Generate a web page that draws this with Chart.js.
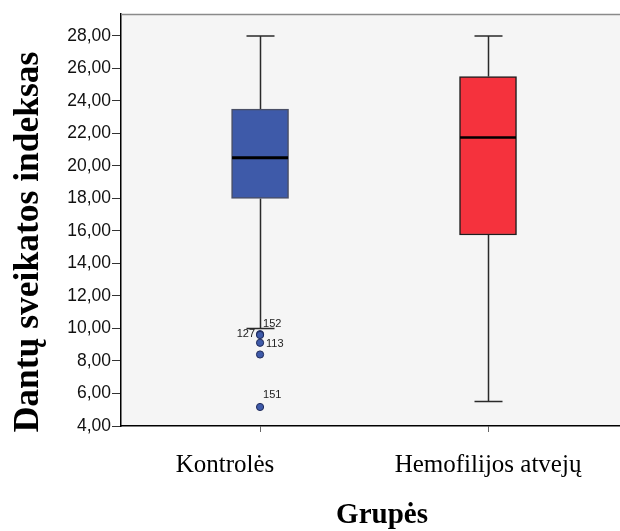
<!DOCTYPE html>
<html>
<head>
<meta charset="utf-8">
<script src="https://cdn.jsdelivr.net/npm/chart.js@4.4.1/dist/chart.umd.min.js"></script>
<style>
  html, body { margin: 0; padding: 0; background: #fff; }
  #wrap { width: 620px; height: 531px; }
</style>
</head>
<body>
<div id="wrap"><canvas id="chartBox" width="620" height="531"></canvas></div>
<script>
// Grupės ir jų statistikos (Dantų sveikatos indeksas)
const groups = ['Kontrolės', 'Hemofilijos atvejų'];
const whiskerLow = [10.0, 5.5];
const quartile1 = [18.0, 15.75];
const medians = [20.5, 21.75];
const quartile3 = [23.5, 25.5];
const whiskerHigh = [28.0, 28.0];

// Išskirtys (tik kontrolinėje grupėje)
const outlierGroup = [1, 1, 1, 1, 1];
const outlierValues = [9.65, 9.6, 9.12, 8.4, 5.17];
const outlierIds = ['152', '127', '113', '', '151'];

const yTicks = [4, 6, 8, 10, 12, 14, 16, 18, 20, 22, 24, 26, 28];

const boxColors = ['#3e5aa9', '#f5323d'];
const boxBorders = ['#4a4f66', '#1e1e1e'];

// kur rašomi išskirčių numeriai (poslinkis nuo taško)
const idPlacement = [
    { dx: 3, dy: -7, align: 'left' },
    { dx: -5, dy: 2, align: 'right' },
    { dx: 6, dy: 4, align: 'left' },
    { dx: 0, dy: 0, align: 'left' },
    { dx: 3, dy: -9, align: 'left' }
];
const groupLabelShift = [-35, 0];

/* Ūsai, medianos, rėmas ir užrašai */
const boxPlotPlugin = {
    id: 'boxPlotPlugin',
    beforeDraw(chart) {
        const { ctx, chartArea } = chart;
        ctx.save();
        ctx.fillStyle = '#f5f5f5';
        ctx.fillRect(chartArea.left, chartArea.top, chartArea.right - chartArea.left, chartArea.bottom - chartArea.top);
        ctx.restore();
    },
    beforeDatasetsDraw(chart) {
        const { ctx, scales: { x, y } } = chart;
        ctx.save();
        ctx.strokeStyle = '#2a2a2a';
        ctx.lineWidth = 1.5;
        groups.forEach((g, i) => {
            const px = Math.round(x.getPixelForValue(i + 1)) + 0.5;
            const lo = y.getPixelForValue(whiskerLow[i]);
            const hi = y.getPixelForValue(whiskerHigh[i]);
            ctx.beginPath();
            ctx.moveTo(px, lo);
            ctx.lineTo(px, y.getPixelForValue(quartile1[i]));
            ctx.moveTo(px, y.getPixelForValue(quartile3[i]));
            ctx.lineTo(px, hi);
            ctx.moveTo(px - 14, lo);
            ctx.lineTo(px + 14, lo);
            ctx.moveTo(px - 14, hi);
            ctx.lineTo(px + 14, hi);
            ctx.stroke();
        });
        ctx.restore();
    },
    afterDatasetsDraw(chart) {
        const { ctx, scales: { x, y } } = chart;
        ctx.save();
        // medianos
        ctx.strokeStyle = '#000';
        groups.forEach((g, i) => {
            const px = x.getPixelForValue(i + 1);
            const py = y.getPixelForValue(medians[i]);
            ctx.lineWidth = i === 0 ? 3 : 2.5;
            ctx.beginPath();
            ctx.moveTo(px - 28, py);
            ctx.lineTo(px + 28, py);
            ctx.stroke();
        });
        // išskirčių numeriai
        ctx.fillStyle = '#222';
        ctx.font = '11px "Liberation Sans", Arial, sans-serif';
        ctx.textBaseline = 'alphabetic';
        outlierValues.forEach((v, i) => {
            if (!outlierIds[i]) return;
            const p = idPlacement[i];
            ctx.textAlign = p.align;
            ctx.fillText(outlierIds[i], x.getPixelForValue(outlierGroup[i]) + p.dx, y.getPixelForValue(v) + p.dy);
        });
        ctx.restore();
    },
    afterDraw(chart) {
        const { ctx, chartArea, scales: { x } } = chart;
        ctx.save();
        // viršutinė rėmo linija
        ctx.strokeStyle = '#8a8a8a';
        ctx.lineWidth = 1.5;
        ctx.beginPath();
        ctx.moveTo(chartArea.left, chartArea.top + 0.5);
        ctx.lineTo(chart.width, chartArea.top + 0.5);
        ctx.stroke();

        // grupių pavadinimai
        ctx.fillStyle = '#000';
        ctx.textAlign = 'center';
        ctx.textBaseline = 'alphabetic';
        ctx.font = '25px "Liberation Serif", "Times New Roman", serif';
        groups.forEach((g, i) => {
            ctx.fillText(g, x.getPixelForValue(i + 1) + groupLabelShift[i], 472);
        });

        // ašių pavadinimai
        ctx.font = 'bold 29px "Liberation Serif", "Times New Roman", serif';
        ctx.fillText('Grupės', 382, 523);
        ctx.translate(38, 242);
        ctx.rotate(-Math.PI / 2);
        ctx.font = 'bold 35.5px "Liberation Serif", "Times New Roman", serif';
        ctx.fillText('Dantų sveikatos indeksas', 0, 0);
        ctx.restore();
    }
};

new Chart(document.getElementById('chartBox'), {
    type: 'bar',
    data: {
        datasets: [{
            label: 'Dėžutės',
            data: quartile1.map((v, i) => ({ x: i + 1, y: [v, quartile3[i]] })),
            backgroundColor: boxColors,
            borderColor: boxBorders,
            borderWidth: 1.5,
            borderSkipped: false,
            barThickness: 57
        }, {
            type: 'scatter',
            label: 'Išskirtys',
            data: outlierValues.map((v, i) => ({ x: outlierGroup[i], y: v })),
            pointRadius: 3.6,
            pointBackgroundColor: boxColors[0],
            pointBorderColor: '#1f2a5a',
            pointBorderWidth: 1
        }]
    },
    options: {
        responsive: false,
        animation: false,
        layout: { autoPadding: false, padding: { top: 14, left: 0, right: 0, bottom: 0 } },
        plugins: { legend: { display: false }, tooltip: { enabled: false } },
        scales: {
            x: {
                type: 'linear',
                offset: false,
                min: 0.39,
                max: 2.579,
                afterBuildTicks: (scale) => { scale.ticks = groups.map((g, i) => ({ value: i + 1 })); },
                afterFit: (scale) => { scale.height = 105; },
                ticks: { display: false },
                grid: { offset: false, drawOnChartArea: false, drawTicks: true, tickLength: 6, color: '#666' },
                border: { display: true, color: '#000', width: 1.5 }
            },
            y: {
                min: 4,
                max: 29.35,
                afterBuildTicks: (scale) => { scale.ticks = yTicks.map(v => ({ value: v })); },
                afterFit: (scale) => { scale.width = 121; },
                ticks: {
                    color: '#111',
                    padding: 1,
                    font: { family: '"Liberation Sans", Arial, sans-serif', size: 17.5 },
                    callback: (v) => Number(v).toFixed(2).replace('.', ',')
                },
                grid: { drawOnChartArea: false, drawTicks: true, tickLength: 9, color: '#333' },
                border: { display: true, color: '#000', width: 1.5 }
            }
        }
    },
    plugins: [boxPlotPlugin]
});
</script>
</body>
</html>
